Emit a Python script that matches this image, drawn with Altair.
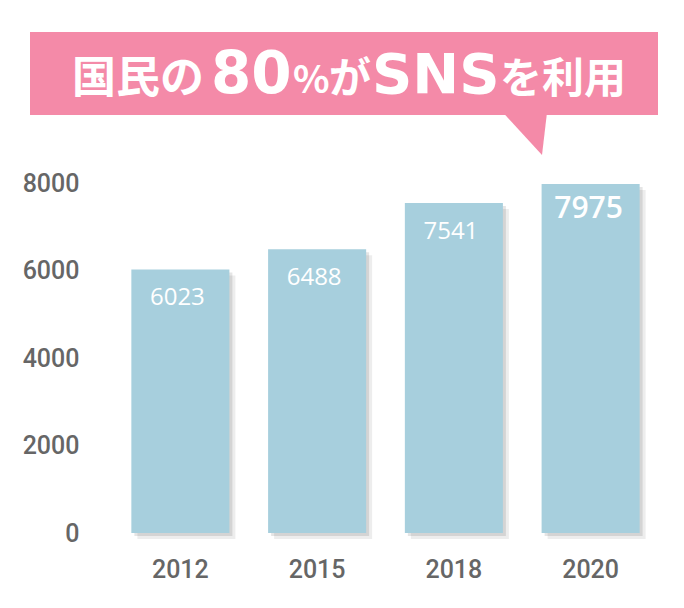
import altair as alt
import pandas as pd

YEARS = ["2012", "2015", "2018", "2020"]
USERS = [6023, 6488, 7541, 7975]
Y_TICKS = [0, 2000, 4000, 6000, 8000]
TITLE_PARTS = ["国民の", "80", "%", "が", "SNS", "を利用"]
HIGHLIGHT = "2020"

BAR = "#a7cfdd"
PINK = "#f48aa8"
GRAY = "#666666"
AXIS_FONT = "Roboto"

df = pd.DataFrame({"year": YEARS, "users": USERS})

W, H = 547, 350
x_enc = alt.X(
    "year:N",
    sort=YEARS,
    scale=alt.Scale(paddingInner=0.283, paddingOuter=0.1415),
    axis=alt.Axis(
        title=None, labelAngle=0, domain=False, ticks=False, tickSize=0,
        labelPadding=24, labelFont=AXIS_FONT, labelFontWeight=500,
        labelFontSize=25, labelColor=GRAY,
    ),
)
y_enc = alt.Y(
    "users:Q",
    scale=alt.Scale(domain=[0, 8000], nice=False),
    axis=alt.Axis(
        title=None, values=Y_TICKS, format="d", grid=False, domain=False, ticks=False, tickSize=0,
        labelPadding=33, labelFont=AXIS_FONT, labelFontWeight=500,
        labelFontSize=25, labelColor=GRAY,
    ),
)

base = alt.Chart(df)

shadow1 = base.mark_bar(color="#000000", opacity=0.07, xOffset=6, yOffset=6).encode(x=x_enc, y=y_enc)
shadow2 = base.mark_bar(color="#000000", opacity=0.10, xOffset=3, yOffset=3).encode(x=x_enc, y=y_enc)
bars = base.mark_bar(color=BAR).encode(x=x_enc, y=y_enc)

labels = base.transform_filter(alt.datum.year != HIGHLIGHT).mark_text(
    color="white", font="Open Sans", fontSize=24, baseline="middle", dy=29, dx=-3
).encode(x=x_enc, y=y_enc, text="users:Q")
label_hl = base.transform_filter(alt.datum.year == HIGHLIGHT).mark_text(
    color="white", font="Open Sans", fontSize=30, fontWeight=600, baseline="middle", dy=25, dx=-2
).encode(x=x_enc, y=y_enc, text="users:Q")

one = alt.Data(values=[{}])
banner = alt.Chart(one).mark_rect(color=PINK).encode(
    x=alt.value(-82), x2=alt.value(546), y=alt.value(-151), y2=alt.value(-68)
)
tail = alt.Chart(one).mark_point(
    shape="M-0.88,-0.9L0.88,-0.9L0.68,0.8Z", filled=True, size=2500, color=PINK, opacity=1, strokeWidth=0
).encode(x=alt.value(413), y=alt.value(-48))

part_x = [-40, 99, 181, 217, 260, 388]
part_size = [44, 58, 38, 42, 56, 42]
part_font = ["Noto Sans CJK JP", "DejaVu Sans", "Noto Sans CJK JP", "Noto Sans CJK JP",
             "DejaVu Sans", "Noto Sans CJK JP"]
title_layers = []
for txt, px, fs, fn in zip(TITLE_PARTS, part_x, part_size, part_font):
    title_layers.append(
        alt.Chart(one).mark_text(
            text=txt, font=fn, fontWeight="bold", fontSize=fs,
            align="left", baseline="alphabetic", color="white",
        ).encode(x=alt.value(px), y=alt.value(-90))
    )

chart = alt.layer(
    banner, tail, *title_layers, shadow1, shadow2, bars, labels, label_hl
).properties(
    width=W, height=H,
    autosize=alt.AutoSizeParams(type="none"),
    padding={"left": 104, "top": 175, "right": 17, "bottom": 67},
    background="white",
).configure_view(stroke=None)

chart.save("out.html", embed_options={"renderer": "svg", "actions": False})
